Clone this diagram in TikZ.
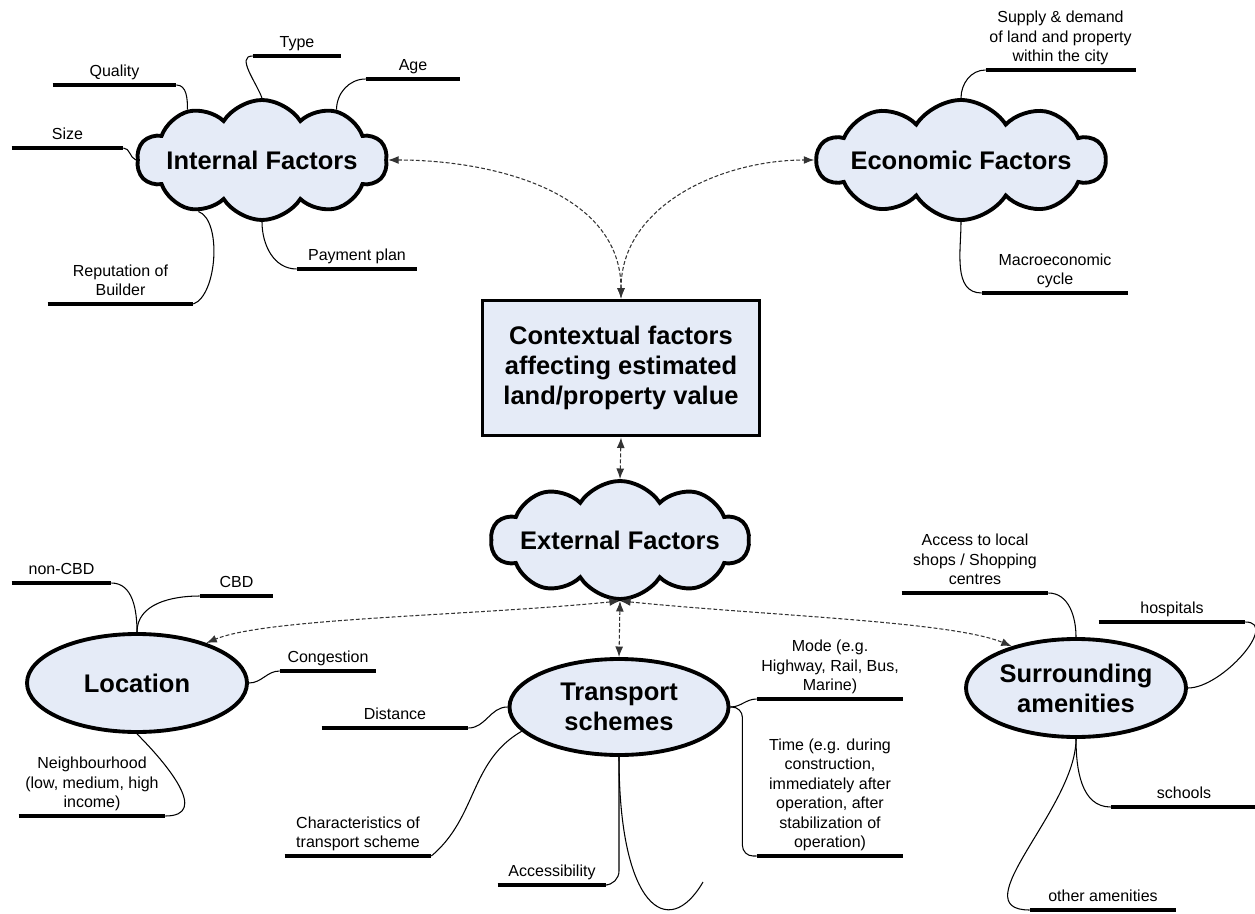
\documentclass[tikz,border=0pt]{standalone}
\usepackage{fontspec}
\setmainfont{Liberation Sans}
\usetikzlibrary{shapes.symbols,shapes.geometric,arrows.meta}
\definecolor{fillblue}{RGB}{229,235,247}

\begin{document}
\begin{tikzpicture}[x=0.2mm,y=0.2mm,
	cloudnode/.style={cloud, cloud puffs=10, cloud puff arc=115, cloud ignores aspect, draw, line width=2.2pt, fill=fillblue, inner xsep=-22pt, inner ysep=0pt, font=\fontsize{14.5}{17}\selectfont\bfseries, align=center},
	ovalnode/.style={ellipse, draw, line width=2.2pt, fill=fillblue, inner sep=0pt, font=\fontsize{14.5}{17}\selectfont\bfseries, align=center},
	mainbox/.style={rectangle, draw, line width=2.2pt, fill=fillblue, font=\fontsize{14.5}{17}\selectfont\bfseries, align=center},
	leaf/.style={anchor=south, inner sep=2pt, text depth=0.25em, font=\fontsize{9.1}{11.1}\selectfont, align=center},
	bar/.style={line width=2.8pt},
	link/.style={line width=0.6pt},
	dasharrow/.style={line width=0.6pt, black!80, dash pattern=on 2.2pt off 1.2pt, {Latex[length=6pt,width=4.5pt]}-{Latex[length=6pt,width=4.5pt]}}]

	\useasboundingbox (0,0) rectangle (1255,913);

	\node[mainbox, minimum width=55.4mm, minimum height=27mm] (ctx) at (621,545) {Contextual factors\\affecting estimated\\land/property value};
	\node[cloudnode, minimum width=50mm, minimum height=24mm] (intf) at (262,753) {Internal Factors};
	\node[cloudnode, minimum width=57.6mm, minimum height=24mm] (econ) at (961,753) {Economic Factors};
	\node[cloudnode, minimum width=51.6mm, minimum height=23.6mm] (extf) at (620,373) {External Factors};
	\node[ovalnode, minimum width=44mm, minimum height=19.6mm] (loc) at (137,230) {Location};
	\node[ovalnode, minimum width=43.8mm, minimum height=19.2mm] (trans) at (619,206) {Transport\\schemes};
	\node[ovalnode, minimum width=44mm, minimum height=19.6mm] (surr) at (1076,225) {Surrounding\\amenities};

	\node[leaf, minimum width=17.6mm] (type) at (297,857) {Type};\draw[bar] (type.south west) -- (type.south east);
	\node[leaf, minimum width=24.6mm] (qual) at (114.5,828) {Quality};\draw[bar] (qual.south west) -- (qual.south east);
	\node[leaf, minimum width=18.8mm] (age) at (413,834) {Age};\draw[bar] (age.south west) -- (age.south east);
	\node[leaf, minimum width=22.2mm] (size) at (67.5,765) {Size};\draw[bar] (size.south west) -- (size.south east);
	\node[leaf, minimum width=24mm] (pay) at (357,644) {Payment plan};\draw[bar] (pay.south west) -- (pay.south east);
	\node[leaf, minimum width=29mm] (rep) at (120.5,609) {Reputation of\\Builder};\draw[bar] (rep.south west) -- (rep.south east);

	\node[leaf, minimum width=29mm] (supply) at (1060.5,843) {Supply \& demand\\of land and property\\within the city};\draw[bar] (supply.south west) -- (supply.south east);
	\node[leaf, minimum width=29.2mm] (macro) at (1055,620) {Macroeconomic\\cycle};\draw[bar] (macro.south west) -- (macro.south east);

	\node[leaf, minimum width=19.8mm] (noncbd) at (61.5,330) {non-CBD};\draw[bar] (noncbd.south west) -- (noncbd.south east);
	\node[leaf, minimum width=14.6mm] (cbd) at (236.5,317) {CBD};\draw[bar] (cbd.south west) -- (cbd.south east);
	\node[leaf, minimum width=19.2mm] (cong) at (328,242) {Congestion};\draw[bar] (cong.south west) -- (cong.south east);
	\node[leaf, minimum width=29.2mm] (neigh) at (92,97) {Neighbourhood\\(low, medium, high\\income)};\draw[bar] (neigh.south west) -- (neigh.south east);

	\node[leaf, minimum width=29.2mm] (dist) at (395,185) {Distance};\draw[bar] (dist.south west) -- (dist.south east);
	\node[leaf, minimum width=29.2mm] (char) at (358,57) {Characteristics of\\transport scheme};\draw[bar] (char.south west) -- (char.south east);
	\node[leaf, minimum width=21.6mm] (acc) at (552,28) {Accessibility};\draw[bar] (acc.south west) -- (acc.south east);
	\node[leaf, minimum width=29.2mm] (mode) at (830,214) {Mode (e.g.\\Highway, Rail, Bus,\\Marine)};\draw[bar] (mode.south west) -- (mode.south east);
	\node[leaf, minimum width=29.2mm] (time) at (830,57) {Time (e.g. during\\construction,\\immediately after\\operation, after\\stabilization of\\operation)};\draw[bar] (time.south west) -- (time.south east);

	\node[leaf, minimum width=29.2mm] (shops) at (975,320) {Access to local\\shops / Shopping\\centres};\draw[bar] (shops.south west) -- (shops.south east);
	\node[leaf, minimum width=29.2mm] (hosp) at (1172,291) {hospitals};\draw[bar] (hosp.south west) -- (hosp.south east);
	\node[leaf, minimum width=29.2mm] (school) at (1184,106) {schools};\draw[bar] (school.south west) -- (school.south east);
	\node[leaf, minimum width=29.2mm] (other) at (1103,3) {other amenities};\draw[bar] (other.south west) -- (other.south east);
	\coordinate (tail) at (703,31);

	\draw[link] (type.south west) to[out=180,in=110] (intf.north);
	\draw[link] (qual.south east) to[out=0,in=90] (intf.146);
	\draw[link] (age.south west) to[out=180,in=90] (intf.34);
	\draw[link] (size.south east) to[out=0,in=160] (intf.west);
	\draw[link] (intf.south) to[out=-90,in=180] (pay.south west);
	\draw[link] (rep.south east) to[out=20,in=-20,looseness=0.7] (intf.219);

	\draw[link] (supply.south west) to[out=180,in=90] (econ.north);
	\draw[link] (econ.south) to[out=-90,in=180] (macro.south west);

	\draw[link] (noncbd.south east) to[out=0,in=90] (loc.north);
	\draw[link] (cbd.south west) to[out=180,in=90] (loc.north);
	\draw[link] (loc.east) to[out=0,in=180] (cong.south west);
	\draw[link] (loc.south) .. controls +(30,-30) and +(45,0) .. (neigh.south east);

	\draw[link] (dist.south east) to[out=0,in=180] (trans.west);
	\draw[link] (char.south east) to[out=40,in=-150] (trans.194);
	\draw[link, rounded corners=8pt] (trans.south) |- (acc.south east);
	\draw[link] (trans.south) .. controls +(0,-150) and +(-35,-60) .. (tail);
	\draw[link] (trans.east) to[out=0,in=180] (mode.south west);
	\draw[link, rounded corners=6pt] (trans.east) -- ++(12,0) |- (time.south west);

	\draw[link] (shops.south east) to[out=0,in=90] (surr.north);
	\draw[link] (hosp.south east) to[out=0,in=0] (surr.east);
	\draw[link] (surr.south) to[out=-90,in=180] (school.south west);
	\draw[link] (surr.south) to[out=-90,in=180] (other.south west);

	\draw[dasharrow] (ctx.north) to[out=90,in=0] (intf.east);
	\draw[dasharrow] (ctx.north) to[out=90,in=180] (econ.west);
	\draw[dasharrow] (ctx.south) -- (extf.north);
	\draw[dasharrow] (extf.south) .. controls +(-150,-15) and +(60,25) .. (loc.30);
	\draw[dasharrow] (extf.south) -- (trans.north);
	\draw[dasharrow] (extf.south) .. controls +(150,-15) and +(-60,25) .. (surr.147);

\end{tikzpicture}
\end{document}
